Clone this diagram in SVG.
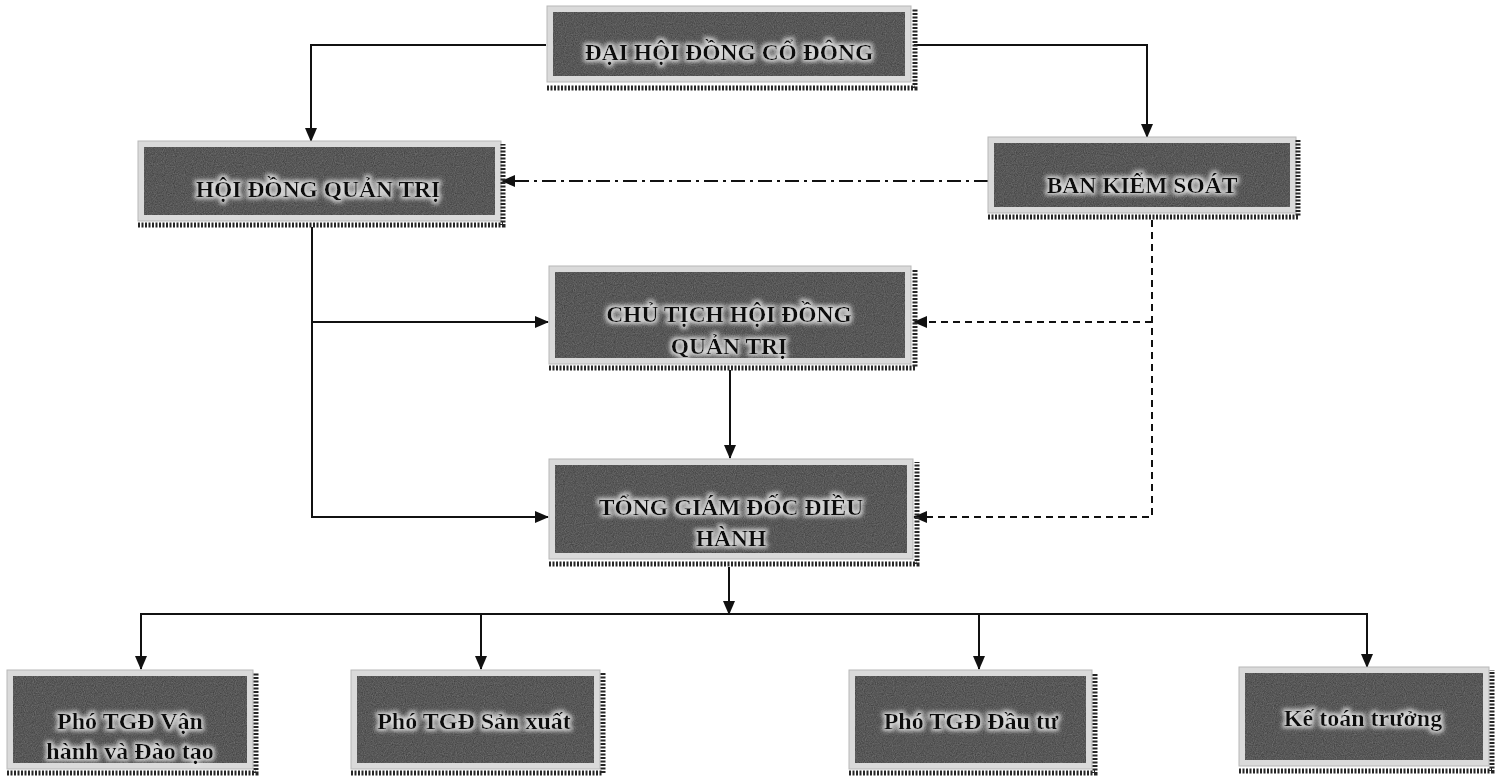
<svg xmlns="http://www.w3.org/2000/svg" width="1496" height="777" viewBox="0 0 1496 777">
<defs>
<filter id="grain" x="0" y="0" width="1" height="1" color-interpolation-filters="sRGB">
<feTurbulence type="fractalNoise" baseFrequency="0.9" numOctaves="2" seed="5" result="n"/>
<feColorMatrix in="n" type="matrix" values="0.33 0.33 0.33 0 0  0.33 0.33 0.33 0 0  0.33 0.33 0.33 0 0  0 0 0 0 1" result="g"/>
<feComposite in="SourceGraphic" in2="g" operator="arithmetic" k1="0" k2="1" k3="0.4" k4="-0.2" result="c"/>
<feComposite in="c" in2="SourceGraphic" operator="in"/>
</filter>
<filter id="halo" x="-10%" y="-40%" width="120%" height="180%">
<feMorphology in="SourceAlpha" operator="dilate" radius="1.6" result="d"/>
<feGaussianBlur in="d" stdDeviation="2.2" result="b"/>
<feFlood flood-color="#e6e6e6" flood-opacity="0.9"/>
<feComposite in2="b" operator="in" result="glow"/>
<feMerge><feMergeNode in="glow"/><feMergeNode in="SourceGraphic"/></feMerge>
</filter>
<marker id="arr" markerUnits="userSpaceOnUse" markerWidth="14" markerHeight="12" refX="13" refY="6" orient="auto">
<path d="M0,0 L14,6 L0,12 Z" fill="#111"/>
</marker>
</defs>
<style>
.frame{fill:#dadada;stroke:#b8b8b8;stroke-width:1}
.box{fill:#585858;filter:url(#grain)}
.shadow{fill:none;stroke:#262626;stroke-width:5;stroke-dasharray:2 1.5}
.t{font-family:"Liberation Serif","Times New Roman",serif;font-weight:bold;fill:#111;text-anchor:middle;filter:url(#halo)}
.cap{font-size:23.5px}
.low{font-size:24px}
.c{fill:none;stroke:#111;stroke-width:2}
.solid{marker-end:url(#arr)}
.dd{stroke-dasharray:14 5 3 5}
.dash{stroke-dasharray:7 5}
</style>
<rect width="1496" height="777" fill="#ffffff"/>

<g id="connectors">
<path class="c solid" d="M546 45 H311 V141"/>
<path class="c solid" d="M914 45 H1147 V137"/>
<path class="c dd" d="M988 181 H502" marker-end="url(#arr)"/>
<path class="c solid" d="M312 227 V517 H548"/>
<path class="c solid" d="M312 322 H548"/>
<path class="c solid" d="M730 370 V458"/>
<path class="c dash" d="M1152 220 V517 H914" marker-end="url(#arr)"/>
<path class="c dash" d="M1152 322 H914" marker-end="url(#arr)"/>
<path class="c solid" d="M729 567 V614"/>
<path class="c" d="M140 614 H1368"/>
<path class="c solid" d="M141 614 V669"/>
<path class="c solid" d="M481 614 V669"/>
<path class="c solid" d="M979 614 V669"/>
<path class="c solid" d="M1367 614 V667"/>
</g>

<g id="n-dhdcd">
<rect class="frame" x="547" y="6" width="364" height="76"/>
<rect class="box" x="553" y="12" width="352" height="64"/>
<path class="shadow" d="M547 88 H915 V9"/>
<text class="t cap" x="729" y="60">ĐẠI HỘI ĐỒNG CỔ ĐÔNG</text>
</g>

<g id="n-hdqt">
<rect class="frame" x="138" y="141" width="363" height="80"/>
<rect class="box" x="144" y="147" width="351" height="68"/>
<path class="shadow" d="M138 225 H503 V144"/>
<text class="t cap" x="318" y="197">HỘI ĐỒNG QUẢN TRỊ</text>
</g>

<g id="n-bks">
<rect class="frame" x="988" y="137" width="308" height="76"/>
<rect class="box" x="994" y="143" width="296" height="64"/>
<path class="shadow" d="M988 217 H1298 V140"/>
<text class="t cap" x="1142" y="193">BAN KIỂM SOÁT</text>
</g>

<g id="n-cthdqt">
<rect class="frame" x="549" y="266" width="362" height="98"/>
<rect class="box" x="555" y="272" width="350" height="86"/>
<path class="shadow" d="M549 368 H915 V269"/>
<text class="t cap" x="729" y="322">CHỦ TỊCH HỘI ĐỒNG</text>
<text class="t cap" x="729" y="354">QUẢN TRỊ</text>
</g>

<g id="n-tgd">
<rect class="frame" x="549" y="459" width="364" height="100"/>
<rect class="box" x="555" y="465" width="352" height="88"/>
<path class="shadow" d="M549 564 H917 V462"/>
<text class="t cap" x="731" y="515">TỔNG GIÁM ĐỐC ĐIỀU</text>
<text class="t cap" x="731" y="546">HÀNH</text>
</g>

<g id="n-pho-vh">
<rect class="frame" x="7" y="670" width="246" height="99"/>
<rect class="box" x="13" y="676" width="234" height="87"/>
<path class="shadow" d="M7 773 H256 V673"/>
<text class="t low" x="130" y="729">Phó TGĐ Vận</text>
<text class="t low" x="130" y="759">hành và Đào tạo</text>
</g>

<g id="n-pho-sx">
<rect class="frame" x="351" y="670" width="249" height="99"/>
<rect class="box" x="357" y="676" width="237" height="87"/>
<path class="shadow" d="M351 773 H603 V673"/>
<text class="t low" x="474" y="729">Phó TGĐ Sản xuất</text>
</g>

<g id="n-pho-dt">
<rect class="frame" x="849" y="670" width="243" height="99"/>
<rect class="box" x="855" y="676" width="231" height="87"/>
<path class="shadow" d="M849 773 H1095 V673"/>
<text class="t low" x="971" y="729">Phó TGĐ Đầu tư</text>
</g>

<g id="n-ktt">
<rect class="frame" x="1239" y="667" width="250" height="99"/>
<rect class="box" x="1245" y="673" width="238" height="87"/>
<path class="shadow" d="M1239 771 H1492 V670"/>
<text class="t low" x="1363" y="726">Kế toán trưởng</text>
</g>
</svg>
